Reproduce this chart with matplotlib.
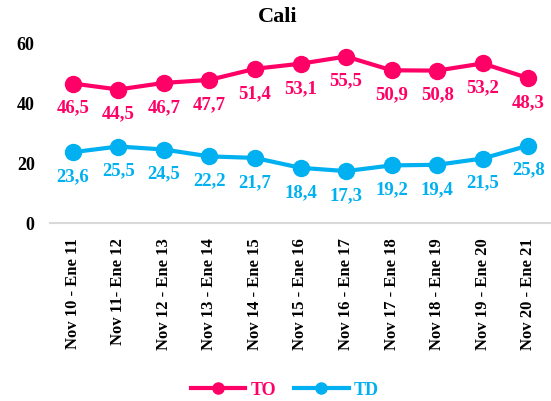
import numpy as np
import matplotlib
matplotlib.use('Agg')
import matplotlib.pyplot as plt

# Data
categories = ['Nov 10 - Ene 11', 'Nov 11- Ene 12', 'Nov 12 - Ene 13', 'Nov 13 - Ene 14',
              'Nov 14 - Ene 15', 'Nov 15 - Ene 16', 'Nov 16 - Ene 17', 'Nov 17 - Ene 18',
              'Nov 18 - Ene 19', 'Nov 19 - Ene 20', 'Nov 20 - Ene 21']
to_vals = [46.5, 44.5, 46.7, 47.7, 51.4, 53.1, 55.5, 50.9, 50.8, 53.2, 48.3]
td_vals = [23.6, 25.5, 24.5, 22.2, 21.7, 18.4, 17.3, 19.2, 19.4, 21.5, 25.8]
yticks = [0, 20, 40, 60]

c_to = '#FF0066'
c_td = '#00B0F0'
plt.rcParams['font.family'] = ['Liberation Serif', 'DejaVu Serif']
plt.rcParams['font.weight'] = 'bold'

fig = plt.figure(figsize=(5.51, 4.02), dpi=100)
ax = fig.add_axes([50 / 551, 178 / 402, 501 / 551, 180 / 402])

x = np.arange(len(categories))
ax.plot(x, to_vals, color=c_to, lw=3, marker='o', ms=11.5, label='TO', zorder=3)
ax.plot(x, td_vals, color=c_td, lw=3, marker='o', ms=11.5, label='TD', zorder=3)

for xi, v in zip(x, to_vals):
    ax.annotate(f'{v:.1f}'.replace('.', ','), (xi, v), xytext=(0, -17),
                textcoords='offset points', ha='center', va='center',
                color=c_to, fontsize=13.5, fontweight='bold')
for xi, v in zip(x, td_vals):
    ax.annotate(f'{v:.1f}'.replace('.', ','), (xi, v), xytext=(0, -17),
                textcoords='offset points', ha='center', va='center',
                color=c_td, fontsize=13.5, fontweight='bold')

ax.set_xlim(-0.5, len(categories) - 0.5)
ax.set_ylim(0, 60)
ax.set_yticks(yticks)
ax.set_xticks(x)
ax.set_xticklabels(categories, rotation=90, fontsize=12, fontweight='bold')
ax.tick_params(axis='both', length=0)
ax.tick_params(axis='x', pad=10)
ax.tick_params(axis='y', pad=11)
for lbl in ax.get_yticklabels():
    lbl.set_fontweight('bold')
    lbl.set_fontsize(13)
for s in ['top', 'right', 'left']:
    ax.spines[s].set_visible(False)
ax.spines['bottom'].set_color('#D9D9D9')
ax.spines['bottom'].set_linewidth(1.5)

fig.text(278 / 551, 1 - 17 / 402, 'Cali', ha='center', va='center',
         fontsize=16, fontweight='bold')

leg = fig.legend(loc='center', bbox_to_anchor=(285 / 551, 1 - 391 / 402), ncol=2,
                 frameon=False, fontsize=13, handlelength=3.0, columnspacing=1.0,
                 handletextpad=0.3)
leg.get_texts()[0].set_color(c_to)
leg.get_texts()[1].set_color(c_td)
for h in leg.legend_handles:
    h.set_markersize(8)

fig.savefig('out.png', dpi=100)
